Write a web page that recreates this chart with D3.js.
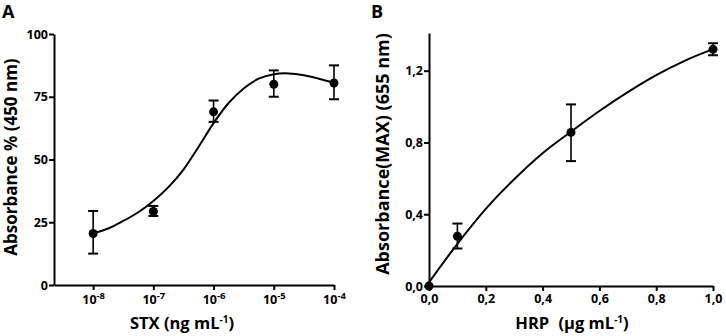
<!DOCTYPE html>
<html>
<head>
<meta charset="utf-8">
<script src="https://cdn.jsdelivr.net/npm/d3@7"></script>
<style>
  body { margin: 0; background: #fff; }
  svg { display: block; font-family: "Open Sans", sans-serif; font-weight: 700; }
  .axis path, .axis line { stroke: #000; stroke-width: 2; }
  .axis text { fill: #000; font-size: 12.5px; font-weight: 700; font-family: "Open Sans", sans-serif; }
</style>
</head>
<body>
<script>
// panel A - STX competition curve
var stxExp = [-8, -7, -6, -5, -4]
var stxMean = [20.5, 29.3, 69, 80, 80.5]
var stxLow = [12.5, 27.5, 65, 75, 74]
var stxHigh = [29.5, 31.5, 73.5, 85.5, 87.5]
// fitted curve (log10 x, y)
var stxFitExp = [-8, -7.75, -7.5, -7.25, -7, -6.75, -6.5, -6.25, -6, -5.75, -5.5, -5.25, -5, -4.75, -4.5, -4.25, -4]
var stxFitY = [20.6, 22.5, 25.5, 29, 33.5, 39, 46, 55, 64.5, 72.5, 78.3, 82.2, 84, 84.3, 83.6, 82.2, 80.6]
var yTicksA = [0, 25, 50, 75, 100]

// panel B - HRP calibration
var hrpX = [0, 0.1, 0.5, 1.0]
var hrpMean = [0, 0.277, 0.856, 1.319]
var hrpLow = [null, 0.209, 0.696, 1.286]
var hrpHigh = [null, 0.348, 1.012, 1.353]
var hrpFitX = [0, 0.1, 0.2, 0.3, 0.4, 0.5, 0.6, 0.7, 0.8, 0.9, 1.0]
var hrpFitY = [0.02, 0.235, 0.43, 0.595, 0.74, 0.86, 0.975, 1.08, 1.175, 1.255, 1.32]
var xTicksB = [0, 0.2, 0.4, 0.6, 0.8, 1.0]
var yTicksB = [0, 0.4, 0.8, 1.2]

var width = 726
var height = 336

var svg = d3.select('body').append('svg')
  .attr('width', width)
  .attr('height', height)

var comma = function(d) { return d3.format('.1f')(d).replace('.', ',') }

function drawErrors(g, xs, lows, highs, x, y) {
  xs.forEach(function(v, i) {
    if (lows[i] == null) return
    var cx = x(v)
    g.append('line').attr('x1', cx).attr('x2', cx)
      .attr('y1', y(lows[i])).attr('y2', y(highs[i]))
      .attr('stroke', '#000').attr('stroke-width', 1.6)
    ;[lows[i], highs[i]].forEach(function(e) {
      g.append('line').attr('x1', cx - 5).attr('x2', cx + 5)
        .attr('y1', y(e)).attr('y2', y(e))
        .attr('stroke', '#000').attr('stroke-width', 2)
    })
  })
}

// ---------- panel A ----------
var xA = d3.scaleLog().domain([Math.pow(10, -8.65), 1e-4]).range([54, 334])
var yA = d3.scaleLinear().domain([0, 100]).range([285, 34])
var gA = svg.append('g')

gA.append('g').attr('class', 'axis')
  .attr('transform', 'translate(0,' + yA(0) + ')')
  .call(d3.axisBottom(xA).tickValues(stxExp.map(function(e) { return Math.pow(10, e) }))
    .tickSize(5).tickSizeOuter(0).tickFormat(''))
  .selectAll('.tick').each(function(d, i) {
    var t = d3.select(this).append('text').attr('y', 19).attr('text-anchor', 'middle').attr('fill', '#000')
    t.append('tspan').text('10')
    t.append('tspan').attr('dy', -5).attr('font-size', '9.5px').text(stxExp[i])
  })

gA.append('g').attr('class', 'axis')
  .attr('transform', 'translate(' + xA.range()[0] + ',0)')
  .call(d3.axisLeft(yA).tickValues(yTicksA).tickSize(5).tickPadding(1).tickSizeOuter(0))

var lineA = d3.line()
  .x(function(d) { return xA(Math.pow(10, d)) })
  .y(function(d, i) { return yA(stxFitY[i]) })
  .curve(d3.curveCatmullRom)
gA.append('path').datum(stxFitExp).attr('d', lineA)
  .attr('fill', 'none').attr('stroke', '#000').attr('stroke-width', 2)

var stxX = stxExp.map(function(e) { return Math.pow(10, e) })
drawErrors(gA, stxX, stxLow, stxHigh, xA, yA)
gA.selectAll('.dotA').data(stxX).enter().append('circle')
  .attr('cx', function(d) { return xA(d) })
  .attr('cy', function(d, i) { return yA(stxMean[i]) })
  .attr('r', 4.5).attr('fill', '#000')

gA.append('text')
  .attr('transform', 'translate(17,157) rotate(-90)')
  .attr('text-anchor', 'middle').attr('font-size', '17px')
  .text('Absorbance % (450 nm)')

var tA = gA.append('text').attr('x', 182).attr('y', 329)
  .attr('text-anchor', 'middle').attr('font-size', '16.5px')
tA.append('tspan').text('STX (ng mL')
tA.append('tspan').attr('dy', -6).attr('font-size', '10px').text('-1')
tA.append('tspan').attr('dy', 6).text(')')

gA.append('text').attr('x', 2).attr('y', 18).attr('font-size', '18px').text('A')

// ---------- panel B ----------
var xB = d3.scaleLinear().domain([0, 1]).range([429, 713])
var yB = d3.scaleLinear().domain([0, 1.41]).range([286, 33])
var gB = svg.append('g')

gB.append('g').attr('class', 'axis')
  .attr('transform', 'translate(0,' + yB(0) + ')')
  .call(d3.axisBottom(xB).tickValues(xTicksB).tickSize(5).tickSizeOuter(0).tickFormat(comma))
  .selectAll('text').attr('y', 8)

gB.append('g').attr('class', 'axis')
  .attr('transform', 'translate(' + xB(0) + ',0)')
  .call(d3.axisLeft(yB).tickValues(yTicksB).tickSize(5).tickPadding(1).tickSizeOuter(0).tickFormat(comma))

var lineB = d3.line()
  .x(function(d) { return xB(d) })
  .y(function(d, i) { return yB(hrpFitY[i]) })
  .curve(d3.curveCatmullRom)
gB.append('path').datum(hrpFitX).attr('d', lineB)
  .attr('fill', 'none').attr('stroke', '#000').attr('stroke-width', 2)

drawErrors(gB, hrpX, hrpLow, hrpHigh, xB, yB)
gB.selectAll('.dotB').data(hrpX).enter().append('circle')
  .attr('cx', function(d) { return xB(d) })
  .attr('cy', function(d, i) { return yB(hrpMean[i]) })
  .attr('r', 4.5).attr('fill', '#000')

gB.append('text')
  .attr('transform', 'translate(389,154) rotate(-90)')
  .attr('text-anchor', 'middle').attr('font-size', '18px')
  .text('Absorbance(MAX) (655 nm)')

var tB = gB.append('text').attr('x', 572).attr('y', 329)
  .attr('text-anchor', 'middle').attr('font-size', '16.5px')
tB.append('tspan').text('HRP')
tB.append('tspan').attr('dx', 5).text(' (\u00b5g mL')
tB.append('tspan').attr('dy', -6).attr('font-size', '10px').text('-1')
tB.append('tspan').attr('dy', 6).text(')')

gB.append('text').attr('x', 371).attr('y', 18).attr('font-size', '18px').text('B')
</script>
</body>
</html>
